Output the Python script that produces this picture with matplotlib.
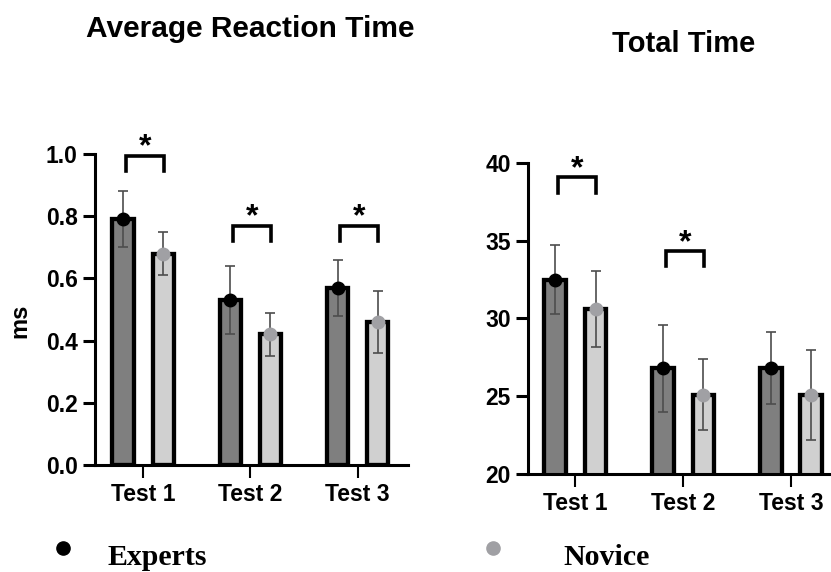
import matplotlib.pyplot as plt
from matplotlib.lines import Line2D
import numpy as np

plt.rcParams['font.family'] = ['Liberation Sans', 'DejaVu Sans']

tests = ['Test 1', 'Test 2', 'Test 3']

# average reaction time (ms)
rt_experts = [0.79, 0.53, 0.57]
rt_experts_sd = [0.09, 0.11, 0.09]
rt_novice = [0.68, 0.42, 0.46]
rt_novice_sd = [0.07, 0.07, 0.10]

# total time
tt_experts = [32.5, 26.8, 26.8]
tt_experts_sd = [2.2, 2.8, 2.3]
tt_novice = [30.6, 25.1, 25.1]
tt_novice_sd = [2.45, 2.3, 2.9]

# significance brackets: (test index, bracket height)
rt_sig = [(0, 0.995), (1, 0.77), (2, 0.77)]
tt_sig = [(0, 39.1), (1, 34.35)]

EXP_FILL = '#7f7f7f'
NOV_FILL = '#d0d0d0'
NOV_DOT = '#a0a0a4'
W, H = 831, 572


def panel(ax, exp, exp_sd, nov, nov_sd, sig, ylim, yticks, xlim, yfmt):
    x = np.arange(len(tests))
    off, width = 0.187, 0.20
    ax.bar(x - off, exp, width, color=EXP_FILL, edgecolor='k', linewidth=3.1, zorder=2)
    ax.bar(x + off, nov, width, color=NOV_FILL, edgecolor='k', linewidth=3.1, zorder=2)
    for xs, m, sd in [(x - off, exp, exp_sd), (x + off, nov, nov_sd)]:
        ax.errorbar(xs, m, yerr=sd, fmt='none', ecolor='#4d4d4d', elinewidth=1.2,
                    capsize=3.6, capthick=1.2, zorder=3)
    ax.plot(x - off, exp, 'o', color='k', ms=9, zorder=4)
    ax.plot(x + off, nov, 'o', color=NOV_DOT, ms=9, zorder=4)

    leg = 0.05 * (ylim[1] - ylim[0])
    for i, h in sig:
        x0, x1 = i - 0.16, i + 0.19
        ax.plot([x0, x0, x1, x1], [h - leg, h, h, h - leg], color='k', lw=2.6,
                clip_on=False, solid_joinstyle='miter', zorder=5)
        ax.text((x0 + x1) / 2, h, '*', ha='center', va='baseline', fontsize=23,
                fontweight='bold', clip_on=False)

    ax.set_xlim(*xlim)
    ax.set_ylim(*ylim)
    ax.set_xticks(x)
    ax.set_xticklabels(tests)
    ax.set_yticks(yticks)
    ax.set_yticklabels([yfmt.format(v) for v in yticks])
    for s in ['top', 'right']:
        ax.spines[s].set_visible(False)
    for s in ['left', 'bottom']:
        ax.spines[s].set_linewidth(2.2)
    ax.tick_params(axis='y', length=8.5, width=2.2, pad=4, labelsize=16.5)
    ax.tick_params(axis='x', length=9, width=1.5, pad=4, labelsize=16.5)
    for lab in ax.get_xticklabels() + ax.get_yticklabels():
        lab.set_fontweight('bold')


fig = plt.figure(figsize=(W / 100, H / 100), dpi=100)
ax1 = fig.add_axes([95 / W, 1 - 465 / H, 313 / W, 311 / H])
ax2 = fig.add_axes([528 / W, 1 - 474 / H, 303 / W, 311 / H])

panel(ax1, rt_experts, rt_experts_sd, rt_novice, rt_novice_sd, rt_sig,
      (0, 1.0), np.arange(0, 1.01, 0.2), (-0.45, 2.47), '{:.1f}')
panel(ax2, tt_experts, tt_experts_sd, tt_novice, tt_novice_sd, tt_sig,
      (20, 40), np.arange(20, 41, 5), (-0.44, 2.37), '{:.0f}')

fig.text(250.5 / W, 1 - 37 / H, 'Average Reaction Time', ha='center', va='baseline',
         fontsize=21.5, fontweight='bold')
fig.text(684 / W, 1 - 52 / H, 'Total Time', ha='center', va='baseline',
         fontsize=21, fontweight='bold')
fig.text(20 / W, 1 - 321 / H, 'ms', rotation=90, ha='center', va='center',
         fontsize=17, fontweight='bold')

# legend at the bottom
for px, col, label, tx in [(63, 'k', 'Experts', 108), (493, NOV_DOT, 'Novice', 563)]:
    fig.add_artist(Line2D([px / W], [1 - 548 / H], transform=fig.transFigure,
                          marker='o', color=col, ms=9.5, linestyle='none'))
    fig.text(tx / W, 1 - 565 / H, label, ha='left', va='baseline', fontsize=21.5,
             fontweight='bold', family=['Liberation Serif', 'DejaVu Serif'])

fig.savefig('out.png', dpi=100)
